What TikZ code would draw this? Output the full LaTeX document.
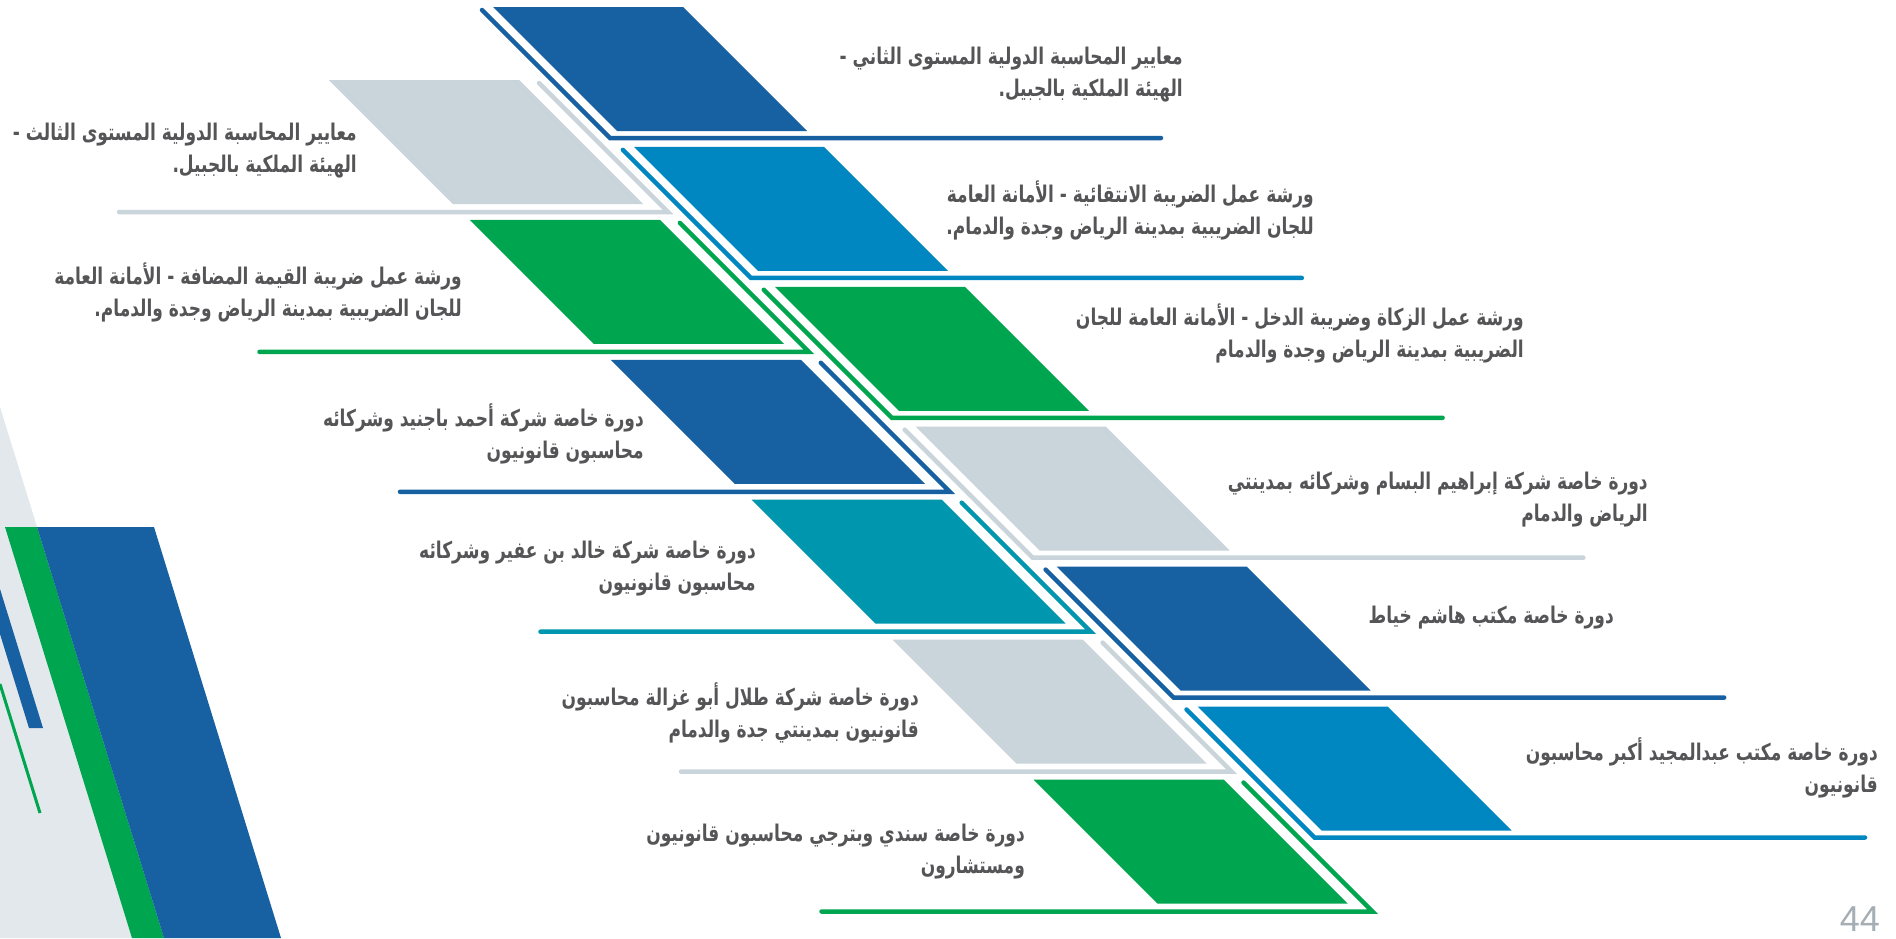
\documentclass[tikz,border=0pt]{standalone}
\usepackage{fontspec}
\newfontfamily\arabicfont[Script=Arabic,FakeStretch=0.74]{DejaVu Sans}
\newfontfamily\numfont{Liberation Sans}
\TeXXeTstate=1
\definecolor{dblue}{HTML}{1760A2}
\definecolor{mblue}{HTML}{0086C0}
\definecolor{green}{HTML}{00A550}
\definecolor{lgray}{HTML}{C9D4DB}
\definecolor{teal}{HTML}{0096AE}
\definecolor{bggray}{HTML}{E2E8EB}
\definecolor{txtgray}{HTML}{555557}
\definecolor{numgray}{HTML}{A5AEB4}
\tikzset{
  spine/.style={line width=4.5pt, line cap=round, line join=miter},
  lbl/.style={font=\arabicfont\bfseries\fontsize{23}{32}\selectfont, text=txtgray, align=right, anchor=east, inner sep=0pt},
}
\begin{document}
\begin{tikzpicture}[x=1pt,y=-1pt]
\useasboundingbox (0,0) rectangle (1896,938);
\fill[white] (0,0) rectangle (1896,938);
% left decoration
\fill[bggray] (0,407) -- (164,938) -- (0,938) -- cycle;
\fill[dblue] (0,589) -- (43,728) -- (29,728) -- (0,634) -- cycle;
\draw[green, line width=3pt] (0,684) -- (40,813);
\fill[green] (5,527) -- (37,527) -- (164,938) -- (132,938) -- cycle;
\fill[dblue] (37,527) -- (154,527) -- (281,938) -- (164,938) -- cycle;
% right items
\foreach \i/\c in {0/dblue,1/mblue,2/green,3/lgray,4/dblue,5/mblue} {
  \pgfmathsetmacro\rx{493+140.9*\i}
  \pgfmathsetmacro\ry{7+139.9*\i}
  \pgfmathsetmacro\re{1161+140.8*\i}
  \fill[\c] (\rx,\ry) -- ++(190,0) -- ++(124,124) -- ++(-190,0) -- cycle;
  \coordinate (rs\i) at (\rx-11,\ry+3);
  \coordinate (rc\i) at (\rx+117,\ry+131);
  \coordinate (re\i) at (\re,\ry+131);
  \draw[\c, spine] (rs\i) -- (rc\i) -- (re\i);
}
% left items
\foreach \i/\c in {0/lgray,1/green,2/dblue,3/teal,4/lgray,5/green} {
  \pgfmathsetmacro\lx{329+140.9*\i}
  \pgfmathsetmacro\ly{80+139.9*\i}
  \pgfmathsetmacro\ls{119+140.5*\i}
  \fill[\c] (\lx,\ly) -- ++(190,0) -- ++(124,124) -- ++(-190,0) -- cycle;
  \coordinate (ls\i) at (\lx+210,\ly+3);
  \coordinate (lc\i) at (\lx+339,\ly+132);
  \coordinate (le\i) at (\ls,\ly+132);
  \draw[\c, spine] (ls\i) -- (lc\i) -- (le\i);
}
% right texts
\node[lbl] (t1) at (1183,75) {\beginR معايير المحاسبة الدولية المستوى الثاني -\endR\\\beginR الهيئة الملكية بالجبيل.\endR};
\node[lbl] (t3) at (1314,210) {\beginR ورشة عمل الضريبة الانتقائية - الأمانة العامة\endR\\\beginR للجان الضريبية بمدينة الرياض وجدة والدمام.\endR};
\node[lbl] (t5) at (1524,333) {\beginR ورشة عمل الزكاة وضريبة الدخل - الأمانة العامة للجان\endR\\\beginR الضريبية بمدينة الرياض وجدة والدمام\endR};
\node[lbl] (t7) at (1648,500) {\beginR دورة خاصة شركة إبراهيم البسام وشركائه بمدينتي\endR\\\beginR الرياض والدمام\endR};
\node[lbl] (t9) at (1614,618) {\beginR دورة خاصة مكتب هاشم خياط\endR};
\node[lbl] (t11) at (1878,768) {\beginR دورة خاصة مكتب عبدالمجيد أكبر محاسبون\endR\\\beginR قانونيون\endR};
% left texts
\node[lbl] (t2) at (357,151) {\beginR معايير المحاسبة الدولية المستوى الثالث -\endR\\\beginR الهيئة الملكية بالجبيل.\endR};
\node[lbl] (t4) at (462,292) {\beginR ورشة عمل ضريبة القيمة المضافة - الأمانة العامة\endR\\\beginR للجان الضريبية بمدينة الرياض وجدة والدمام.\endR};
\node[lbl] (t6) at (644,434) {\beginR دورة خاصة شركة أحمد باجنيد وشركائه\endR\\\beginR محاسبون قانونيون\endR};
\node[lbl] (t8) at (756,569) {\beginR دورة خاصة شركة خالد بن عفير وشركائه\endR\\\beginR محاسبون قانونيون\endR};
\node[lbl] (t10) at (919,713) {\beginR دورة خاصة شركة طلال أبو غزالة محاسبون\endR\\\beginR قانونيون بمدينتي جدة والدمام\endR};
\node[lbl] (t12) at (1025,852) {\beginR دورة خاصة سندي وبترجي محاسبون قانونيون\endR\\\beginR ومستشارون\endR};
% page number
\node[font=\numfont\fontsize{36}{36}\selectfont, text=numgray, anchor=base east, inner sep=0pt] (pg) at (1880,931) {44};
\end{tikzpicture}
\end{document}
